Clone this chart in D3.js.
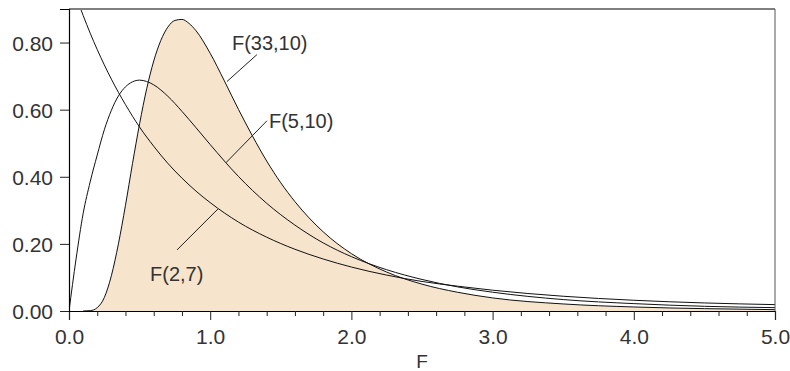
<!DOCTYPE html>
<html>
<head>
<meta charset="utf-8">
<script src="https://cdn.jsdelivr.net/npm/d3@7"></script>
<style>
  body { margin: 0; background: #fff; }
  text { font-family: "Liberation Sans", Arial, sans-serif; fill: #333; }
</style>
</head>
<body>
<svg id="chart" width="790" height="371"></svg>
<script>
// F(33,10) density
var f33_10_x = [0.1, 0.15, 0.2, 0.25, 0.3, 0.35, 0.4, 0.45, 0.5, 0.55, 0.6, 0.65, 0.7, 0.75, 0.8, 0.85, 0.9, 1.0, 1.1, 1.2, 1.3, 1.4, 1.5, 1.6, 1.8, 2.0, 2.25, 2.5, 2.75, 3.0, 3.5, 4.0, 4.5, 5.0];
var f33_10_y = [0.0, 0.001, 0.010, 0.040, 0.105, 0.200, 0.315, 0.440, 0.558, 0.662, 0.745, 0.806, 0.846, 0.866, 0.869, 0.857, 0.835, 0.768, 0.686, 0.601, 0.521, 0.447, 0.382, 0.326, 0.236, 0.171, 0.116, 0.080, 0.056, 0.039, 0.021, 0.012, 0.007, 0.004];

// F(5,10)
var f5_10_x = [0, 0.05, 0.1, 0.15, 0.2, 0.25, 0.3, 0.35, 0.4, 0.45, 0.5, 0.55, 0.6, 0.7, 0.8, 0.9, 1.0, 1.2, 1.4, 1.6, 1.8, 2.0, 2.25, 2.5, 2.75, 3.0, 3.5, 4.0, 4.5, 5.0];
var f5_10_y = [0, 0.155, 0.290, 0.385, 0.465, 0.540, 0.598, 0.641, 0.668, 0.683, 0.688, 0.684, 0.674, 0.640, 0.595, 0.546, 0.496, 0.401, 0.321, 0.256, 0.203, 0.162, 0.123, 0.094, 0.072, 0.056, 0.034, 0.022, 0.014, 0.010];

// F(2,7)
var f2_7_x = [0, 0.05, 0.1, 0.15, 0.2, 0.3, 0.4, 0.5, 0.6, 0.7, 0.8, 0.9, 1.0, 1.2, 1.4, 1.6, 1.8, 2.0, 2.25, 2.5, 2.75, 3.0, 3.5, 4.0, 4.5, 5.0];
var f2_7_y = [1.0, 0.938, 0.881, 0.828, 0.779, 0.691, 0.615, 0.548, 0.491, 0.440, 0.396, 0.357, 0.323, 0.265, 0.220, 0.184, 0.155, 0.131, 0.107, 0.088, 0.074, 0.062, 0.044, 0.032, 0.024, 0.019];

var xTicks = [0, 1, 2, 3, 4, 5];
var xMinorTicks = [0.2, 0.4, 0.6, 0.8, 1.2, 1.4, 1.6, 1.8, 2.2, 2.4, 2.6, 2.8, 3.2, 3.4, 3.6, 3.8, 4.2, 4.4, 4.6, 4.8];
var yTicks = [0, 0.2, 0.4, 0.6, 0.8];

// curve labels: text anchor and leader line in data units
var labelText = ["F(33,10)", "F(5,10)", "F(2,7)"];
var labelPos = [[1.154, 0.779], [1.416, 0.546], [0.574, 0.090]];
var leaderFrom = [[1.331, 0.764], [1.402, 0.567], [0.765, 0.182]];
var leaderTo = [[1.119, 0.684], [1.112, 0.442], [1.055, 0.304]];

var svg = d3.select("#chart");
var pLeft = 69, pRight = 775, pTop = 9, pBottom = 311;

var x = d3.scaleLinear().domain([0, 5]).range([pLeft, pRight]);
var y = d3.scaleLinear().domain([0, 0.9]).range([pBottom, pTop]);

function pts(xs, ys) {
    return xs.map(function(d, i) { return [d, ys[i]]; });
}

svg.append("clipPath").attr("id", "plotclip")
    .append("rect")
    .attr("x", pLeft).attr("y", pTop)
    .attr("width", pRight - pLeft).attr("height", pBottom - pTop);

var plot = svg.append("g").attr("clip-path", "url(#plotclip)");

var line = d3.line()
    .x(function(d) { return x(d[0]); })
    .y(function(d) { return y(d[1]); })
    .curve(d3.curveMonotoneX);

var area = d3.area()
    .x(function(d) { return x(d[0]); })
    .y0(y(0))
    .y1(function(d) { return y(d[1]); })
    .curve(d3.curveMonotoneX);

plot.append("path")
    .datum(pts(f33_10_x, f33_10_y))
    .attr("d", area)
    .attr("fill", "#f6e5cc");

[pts(f33_10_x, f33_10_y), pts(f5_10_x, f5_10_y), pts(f2_7_x, f2_7_y)].forEach(function(p) {
    plot.append("path")
        .datum(p)
        .attr("d", line)
        .attr("fill", "none")
        .attr("stroke", "#111")
        .attr("stroke-width", 1);
});

// frame
svg.append("line").attr("x1", pLeft).attr("x2", pRight).attr("y1", pTop).attr("y2", pTop)
    .attr("stroke", "#808080").attr("stroke-width", 2);
svg.append("line").attr("x1", pRight).attr("x2", pRight).attr("y1", pTop).attr("y2", pBottom)
    .attr("stroke", "#555").attr("stroke-width", 1);

// x axis
var xAxis = svg.append("g").attr("transform", "translate(0," + pBottom + ")")
    .call(d3.axisBottom(x).tickValues(xTicks).tickSize(9).tickPadding(8)
        .tickFormat(d3.format(".1f")));
svg.append("g").attr("transform", "translate(0," + pBottom + ")")
    .call(d3.axisBottom(x).tickValues(xMinorTicks).tickSize(5).tickFormat(""))
    .select(".domain").remove();

// y axis
var yAxis = svg.append("g").attr("transform", "translate(" + pLeft + ",0)")
    .call(d3.axisLeft(y).tickValues(yTicks).tickSize(9).tickPadding(7)
        .tickFormat(d3.format(".2f")));

svg.selectAll(".domain").attr("stroke", "#000").attr("stroke-width", 1.2);
svg.selectAll(".tick line").attr("stroke", "#222");
svg.selectAll(".tick text")
    .style("font-family", '"Liberation Sans", Arial, sans-serif')
    .style("font-size", "21px")
    .attr("fill", "#444");
xAxis.selectAll(".tick text").attr("dy", "0.75em");
yAxis.selectAll(".tick text").attr("dy", "0.36em");

svg.append("text")
    .attr("x", (pLeft + pRight) / 2)
    .attr("y", 368)
    .attr("text-anchor", "middle")
    .style("font-size", "19px")
    .attr("fill", "#444")
    .text("F");

// labels and leader lines
labelText.forEach(function(t, i) {
    svg.append("line")
        .attr("x1", x(leaderFrom[i][0])).attr("y1", y(leaderFrom[i][1]))
        .attr("x2", x(leaderTo[i][0])).attr("y2", y(leaderTo[i][1]))
        .attr("stroke", "#222").attr("stroke-width", 1);
    svg.append("text")
        .attr("x", x(labelPos[i][0]))
        .attr("y", y(labelPos[i][1]))
        .style("font-size", "20px")
        .attr("fill", "#333")
        .text(t);
});
</script>
</body>
</html>
